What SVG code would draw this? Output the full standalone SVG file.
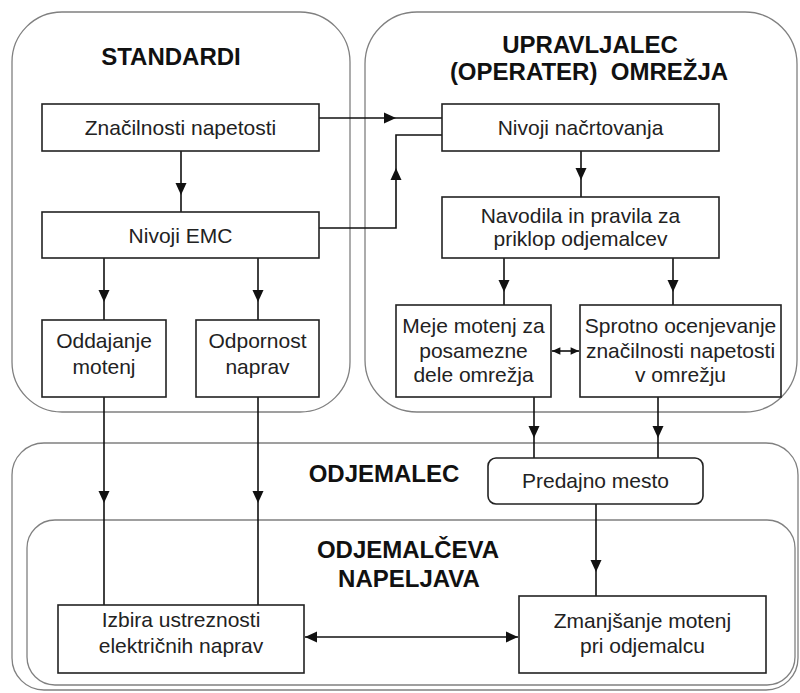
<svg xmlns="http://www.w3.org/2000/svg" xmlns:xlink="http://www.w3.org/1999/xlink" width="800" height="693" viewBox="0 0 800 693">
<style>
.cont{fill:none;stroke:#808080;stroke-width:1.3}
.box{fill:#fff;stroke:#222;stroke-width:1.6}
.ln{fill:none;stroke:#111;stroke-width:1.6}
.t{font-family:"Liberation Sans",Arial,sans-serif;font-size:21px;fill:#222;text-anchor:middle}
.h{font-family:"Liberation Sans",Arial,sans-serif;font-size:24px;font-weight:bold;fill:#111;text-anchor:middle}
.ah{fill:#111}
</style>
<defs>
<path id="tri" d="M0,0 L-12,-5.5 L-12,5.5 Z"/>
</defs>
<rect width="800" height="693" fill="#fff"/>
<g id="containers">
<rect id="standardi" class="cont" x="12" y="12" width="338" height="400" rx="50" ry="50"/>
<rect id="upravljalec" class="cont" x="365" y="12" width="432" height="400" rx="52" ry="52"/>
<rect id="odjemalec" class="cont" x="12" y="443" width="786" height="247" rx="32" ry="32"/>
<rect id="napeljava" class="cont" x="27" y="520" width="768" height="165" rx="28" ry="28"/>
</g>
<g id="headings">
<text class="h" x="171" y="65">STANDARDI</text>
<text class="h" x="590" y="53">UPRAVLJALEC</text>
<text class="h" x="589" y="80" xml:space="preserve">(OPERATER)  OMREŽJA</text>
<text class="h" x="384" y="482">ODJEMALEC</text>
<text class="h" x="408" y="558">ODJEMALČEVA</text>
<text class="h" x="409" y="587">NAPELJAVA</text>
</g>
<g id="connectors">
<path class="ln" d="M181,151 V212"/>
<path class="ln" d="M319,118 H442"/>
<path class="ln" d="M319,228 H396 V135 H442"/>
<path class="ln" d="M581,151 V197"/>
<path class="ln" d="M504,258 V305"/>
<path class="ln" d="M673,258 V305"/>
<path class="ln" d="M104,258 V320"/>
<path class="ln" d="M258,258 V320"/>
<path class="ln" d="M552,351 H579"/>
<path class="ln" d="M534,397 V458"/>
<path class="ln" d="M658,397 V458"/>
<path class="ln" d="M104,397 V605"/>
<path class="ln" d="M258,397 V605"/>
<path class="ln" d="M596,504 V596"/>
<path class="ln" d="M305,637 H518"/>
<use class="ah" xlink:href="#tri" transform="translate(181,195) rotate(90)"/>
<use class="ah" xlink:href="#tri" transform="translate(396,118)"/>
<use class="ah" xlink:href="#tri" transform="translate(396,168) rotate(-90)"/>
<use class="ah" xlink:href="#tri" transform="translate(581,180) rotate(90)"/>
<use class="ah" xlink:href="#tri" transform="translate(504,292) rotate(90)"/>
<use class="ah" xlink:href="#tri" transform="translate(673,292) rotate(90)"/>
<use class="ah" xlink:href="#tri" transform="translate(104,302) rotate(90)"/>
<use class="ah" xlink:href="#tri" transform="translate(258,302) rotate(90)"/>
<use class="ah" xlink:href="#tri" transform="translate(534,438) rotate(90)"/>
<use class="ah" xlink:href="#tri" transform="translate(658,438) rotate(90)"/>
<use class="ah" xlink:href="#tri" transform="translate(104,503) rotate(90)"/>
<use class="ah" xlink:href="#tri" transform="translate(258,503) rotate(90)"/>
<use class="ah" xlink:href="#tri" transform="translate(596,572) rotate(90)"/>
<use class="ah" xlink:href="#tri" transform="translate(552,351) rotate(180) scale(0.7)"/>
<use class="ah" xlink:href="#tri" transform="translate(579,351) scale(0.7)"/>
<use class="ah" xlink:href="#tri" transform="translate(305,637) rotate(180)"/>
<use class="ah" xlink:href="#tri" transform="translate(518,637)"/>
</g>
<g id="znacilnosti">
<rect class="box" x="42" y="104" width="277" height="47"/>
<text class="t" x="180.5" y="135">Značilnosti napetosti</text>
</g>
<g id="nivoji-emc">
<rect class="box" x="42" y="212" width="277" height="46"/>
<text class="t" x="180.5" y="243">Nivoji EMC</text>
</g>
<g id="oddajanje">
<rect class="box" x="42" y="320" width="124" height="77"/>
<text class="t" x="104" y="348">Oddajanje</text>
<text class="t" x="104" y="374">motenj</text>
</g>
<g id="odpornost">
<rect class="box" x="196" y="320" width="123" height="77"/>
<text class="t" x="257.5" y="348">Odpornost</text>
<text class="t" x="257.5" y="374">naprav</text>
</g>
<g id="nivoji-nacrtovanja">
<rect class="box" x="442" y="104" width="277" height="47"/>
<text class="t" x="580.5" y="135">Nivoji načrtovanja</text>
</g>
<g id="navodila">
<rect class="box" x="442" y="197" width="277" height="61"/>
<text class="t" x="580.5" y="223">Navodila in pravila za</text>
<text class="t" x="580.5" y="246">priklop odjemalcev</text>
</g>
<g id="meje">
<rect class="box" x="396" y="305" width="155" height="92"/>
<text class="t" x="473.5" y="333">Meje motenj za</text>
<text class="t" x="473.5" y="358">posamezne</text>
<text class="t" x="473.5" y="382">dele omrežja</text>
</g>
<g id="sprotno">
<rect class="box" x="580" y="305" width="201" height="92"/>
<text class="t" x="680.5" y="333">Sprotno ocenjevanje</text>
<text class="t" x="680.5" y="358">značilnosti napetosti</text>
<text class="t" x="680.5" y="382">v omrežju</text>
</g>
<g id="predajno">
<rect class="box" x="488" y="458" width="215" height="46" rx="8" ry="8"/>
<text class="t" x="595.5" y="488">Predajno mesto</text>
</g>
<g id="izbira">
<rect class="box" x="58" y="605" width="246" height="68"/>
<text class="t" x="181" y="627">Izbira ustreznosti</text>
<text class="t" x="181" y="653">električnih naprav</text>
</g>
<g id="zmanjsanje">
<rect class="box" x="519" y="596" width="247" height="77"/>
<text class="t" x="642.5" y="628">Zmanjšanje motenj</text>
<text class="t" x="642.5" y="653">pri odjemalcu</text>
</g>
</svg>
